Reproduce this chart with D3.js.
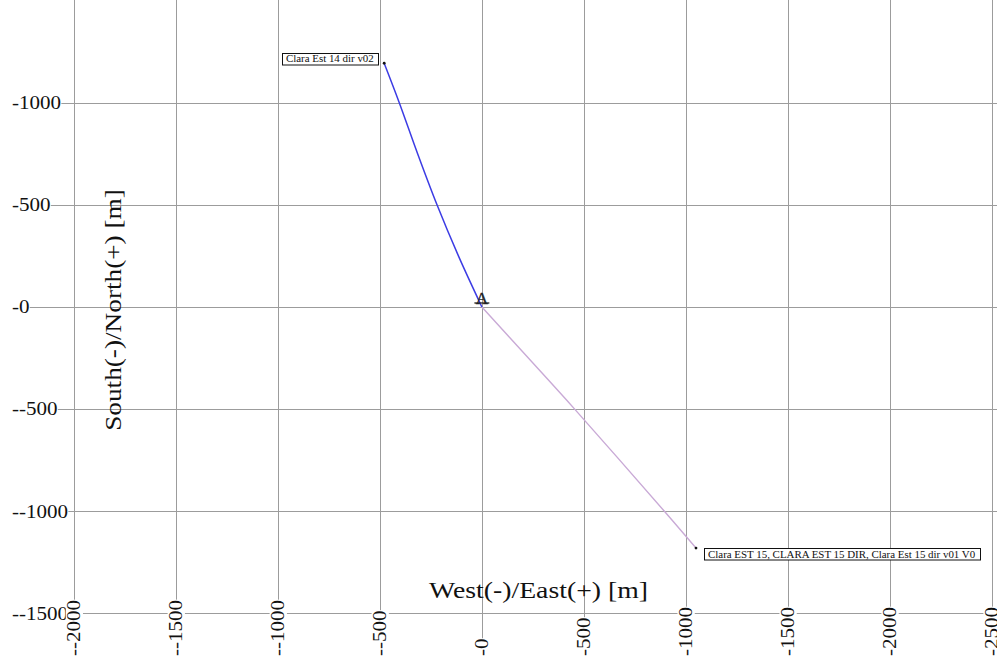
<!DOCTYPE html>
<html><head><meta charset="utf-8">
<script src="https://cdn.jsdelivr.net/npm/d3@7"></script>
<style>body{margin:0;background:#fff}svg{display:block}</style>
</head><body>
<svg id="c" width="997" height="656"></svg>
<script>
// ---- data ----
const xTicks = [-2000, -1500, -1000, -500, 0, 500, 1000, 1500, 2000, 2500];
const yTicks = [1000, 500, 0, -500, -1000, -1500];
const xTitle = "West(-)/East(+) [m]";
const yTitle = "South(-)/North(+) [m]";
const seriesNames = ["Clara Est 14 dir v02", "Clara EST 15, CLARA EST 15 DIR, Clara Est 15 dir v01 V0"];
const est14East  = [0, -115, -220, -315, -405, -479];
const est14North = [0, 250, 500, 750, 1000, 1193];
const est15East  = [0, 228, 455, 895, 1050];
const est15North = [0, -250, -500, -1000, -1180];
const wellSymbol = "A";

// ---- drawing ----
const serif = "'Liberation Serif','Times New Roman',serif";
const svg = d3.select("#c");
const x = d3.scaleLinear().domain([-2000, 2500]).range([74, 991.7]);
const y = d3.scaleLinear().domain([-1500, 1000]).range([613.4, 102.7]);
const gridColor = "#9c9c9c";
const S = 1.17; // horizontal glyph stretch

// grid
svg.append("g").selectAll("line").data(xTicks).join("line")
  .attr("x1", d => Math.round(x(d)) + 0.5).attr("x2", d => Math.round(x(d)) + 0.5)
  .attr("y1", 0).attr("y2", 656).attr("stroke", gridColor).attr("stroke-width", 1);
svg.append("g").selectAll("line").data(yTicks).join("line")
  .attr("y1", d => Math.round(y(d)) + 0.5).attr("y2", d => Math.round(y(d)) + 0.5)
  .attr("x1", 12).attr("x2", 997).attr("stroke", gridColor).attr("stroke-width", 1);

// well paths
const line = d3.line().x(d => x(d[0])).y(d => y(d[1])).curve(d3.curveCatmullRom);
const s14 = est14East.map((e, i) => [e, est14North[i]]);
const s15 = est15East.map((e, i) => [e, est15North[i]]);
svg.append("path").datum(s15).attr("d", line).attr("fill", "none")
  .attr("stroke", "#c9aad6").attr("stroke-width", 1.4);
svg.append("path").datum(s14).attr("d", line).attr("fill", "none")
  .attr("stroke", "#3c3ce4").attr("stroke-width", 1.5);

// well symbol at origin
svg.append("text").attr("x", x(0)).attr("y", y(0) - 3).attr("text-anchor", "middle")
  .attr("font-family", serif).attr("font-size", 17).attr("fill", "#222")
  .attr("stroke", "#222").attr("stroke-width", 0.4).text(wellSymbol);
svg.append("line").attr("x1", x(0) - 7.5).attr("x2", x(0) + 7.5).attr("y1", y(0) - 4).attr("y2", y(0) - 4)
  .attr("stroke", "#222").attr("stroke-width", 1.3);

// tick labels with white background
function label(transform, str, size) {
  const g = svg.append("g").attr("transform", transform);
  const t = g.append("text").attr("font-family", serif).attr("font-size", size)
    .attr("dy", "0.35em").attr("fill", "#111").text(str);
  const bb = t.node().getBBox();
  g.insert("rect", "text").attr("x", bb.x).attr("y", bb.y + 1).attr("width", bb.width)
    .attr("height", bb.height - 2).attr("fill", "#fff");
}
yTicks.forEach(d => label(`translate(12,${y(d)}) scale(${S},1)`, "-" + d, 18));
xTicks.forEach(d => label(`translate(${x(d)},656) rotate(-90) scale(${S},1)`, "-" + d, 18));

// axis titles
svg.append("text").attr("transform", `translate(538.5,598) scale(1.18,1)`)
  .attr("text-anchor", "middle").attr("font-family", serif).attr("font-size", 23.5)
  .attr("fill", "#111").text(xTitle);
svg.append("text").attr("transform", `translate(121,310) rotate(-90) scale(1.16,1)`)
  .attr("text-anchor", "middle").attr("font-family", serif).attr("font-size", 23.5)
  .attr("fill", "#111").text(yTitle);

// annotations
function annot(pt, str, side) {
  const px = x(pt[0]), py = y(pt[1]);
  const g = svg.append("g");
  const t = g.append("text").attr("font-family", serif).attr("font-size", 9.5).attr("fill", "#111").text(str);
  const bb = t.node().getBBox();
  const s = 1.15, W = bb.width * s + 8, H = 11.5;
  const left = side === "left" ? px - 6 - W : px + 8;
  const top = side === "left" ? py + 1 - H : py;
  g.insert("rect", "text").attr("x", Math.round(left) + 0.5).attr("y", Math.round(top) + 0.5)
    .attr("width", Math.round(W)).attr("height", H).attr("fill", "#fff").attr("stroke", "#111").attr("stroke-width", 1);
  t.attr("transform", `translate(${left + 4},${top + H / 2 + 0.5}) scale(${s},1)`).attr("dy", "0.35em");
  svg.append("circle").attr("cx", px).attr("cy", py).attr("r", 1.4).attr("fill", "#111");
}
annot(s14[s14.length - 1], seriesNames[0], "left");
annot(s15[s15.length - 1], seriesNames[1], "right");
</script>
</body></html>
